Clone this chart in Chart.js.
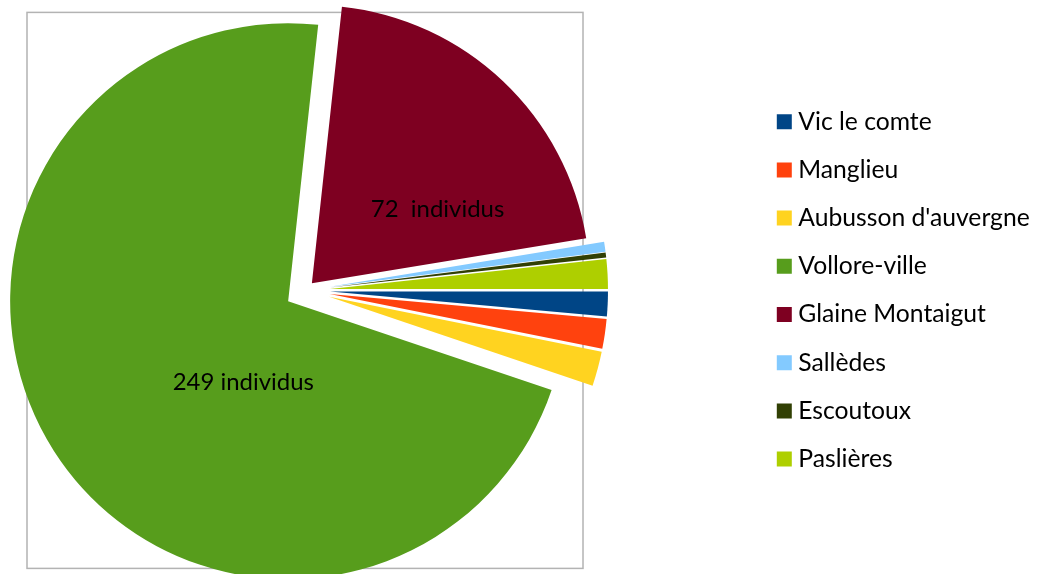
<!DOCTYPE html>
<html><head><meta charset="utf-8">
<script src="https://cdn.jsdelivr.net/npm/chart.js@4.4.1/dist/chart.umd.min.js"></script>
<style>
html,body{margin:0;padding:0;background:#fff;overflow:hidden;width:1038px;height:574px;}
#wrap{position:absolute;left:-200px;top:0;width:1300px;height:574px;}
</style></head><body>
<div id="wrap"><canvas id="c"></canvas></div>
<script>
// ---- data ----
const categories = ["Vic le comte", "Manglieu", "Aubusson d'auvergne", "Vollore-ville", "Glaine Montaigut", "Sallèdes", "Escoutoux", "Paslières"];
const individus = [5, 6, 7, 249, 72, 2, 1, 6];
const labelSep = [null, null, null, " ", "  ", null, null, null];   // slices carrying a value label
// ---- style ----
const colors = ["#004586", "#ff420e", "#ffd320", "#579d1c", "#7e0021", "#83caff", "#314004", "#aecf00"];
const explode = [25, 25, 25, 20, 10, 25, 25, 25];
const labelAnchor = [null, null, null, [-0.1615, 0.321], [0.452, -0.2396], null, null, null];

const FONT = "Lato, 'Open Sans', sans-serif";
const SHIFT = 200, CANVAS_W = 1300;
const R = 278;

function measure(text, size) {
  const c = document.createElement('canvas').getContext('2d');
  c.font = size + 'px ' + FONT;
  return c.measureText(text).width;
}

function build() {
  const legendFont = 100 * 231.5 / measure("Aubusson d'auvergne", 100);
  const labelFont = 100 * 141.3 / measure("249 individus", 100);
  const pitch = 48.2;
  const pad = pitch - legendFont;
  const bw = Math.max(1, 28 - legendFont);
  const cursorX = 784.3 - bw / 2;
  const legendLeftPage = cursorX - pad;
  const maxText = Math.max(...categories.map(t => measure(t, legendFont)));
  const Lw = pad + bw + legendFont / 2 + maxText + 10;
  const padLeft = 610 + SHIFT - legendLeftPage;
  const padRight = CANVAS_W - Lw - (legendLeftPage + SHIFT);

  const explodePlugin = {
    id: 'explode',
    beforeDatasetsDraw(chart) {
      const meta = chart.getDatasetMeta(0);
      const arc = meta.data[0];
      const r = arc.outerRadius;
      const ctx = chart.ctx;
      ctx.save();
      ctx.strokeStyle = '#b3b3b3';
      ctx.lineWidth = 1.5;
      ctx.strokeRect(arc.x - r, arc.y - r, 2 * r, 2 * r);
      ctx.restore();
    },
    beforeDatasetDraw(chart, args) {
      const ctx = chart.ctx;
      args.meta.data.forEach((arc, i) => {
        const mid = (arc.startAngle + arc.endAngle) / 2;
        ctx.save();
        ctx.translate(Math.cos(mid) * explode[i], Math.sin(mid) * explode[i]);
        arc.draw(ctx, chart.chartArea);
        ctx.restore();
      });
      return false;
    },
    afterDatasetsDraw(chart) {
      const ctx = chart.ctx;
      const meta = chart.getDatasetMeta(0);
      meta.data.forEach((arc, i) => {
        if (labelSep[i] === null) return;
        const mid = (arc.startAngle + arc.endAngle) / 2;
        const cx = arc.x + Math.cos(mid) * explode[i];
        const cy = arc.y + Math.sin(mid) * explode[i];
        const a = labelAnchor[i];
        ctx.save();
        ctx.font = labelFont + 'px ' + FONT;
        ctx.fillStyle = '#000';
        ctx.textAlign = 'center';
        ctx.textBaseline = 'alphabetic';
        ctx.fillText(individus[i] + labelSep[i] + 'individus', cx + a[0] * arc.outerRadius, cy + a[1] * arc.outerRadius);
        ctx.restore();
      });
    }
  };

  new Chart(document.getElementById('c'), {
    type: 'pie',
    data: {
      labels: categories,
      datasets: [{
        data: individus,
        backgroundColor: colors,
        borderWidth: 0
      }]
    },
    options: {
      responsive: true,
      maintainAspectRatio: false,
      animation: false,
      events: [],
      rotation: 90,
      radius: R,
      layout: { padding: { left: padLeft, right: padRight, top: 6.8, bottom: 0 } },
      plugins: {
        tooltip: { enabled: false },
        legend: {
          position: 'right',
          labels: {
            usePointStyle: true,
            pointStyle: 'rect',
            boxWidth: bw,
            boxHeight: 15,
            padding: pad,
            color: '#000',
            font: { family: FONT, size: legendFont }
          }
        }
      }
    },
    plugins: [explodePlugin]
  });
}

if (document.fonts && document.fonts.load) {
  Promise.all([document.fonts.load("24px Lato")]).then(build, build);
} else { build(); }
</script>
</body></html>
